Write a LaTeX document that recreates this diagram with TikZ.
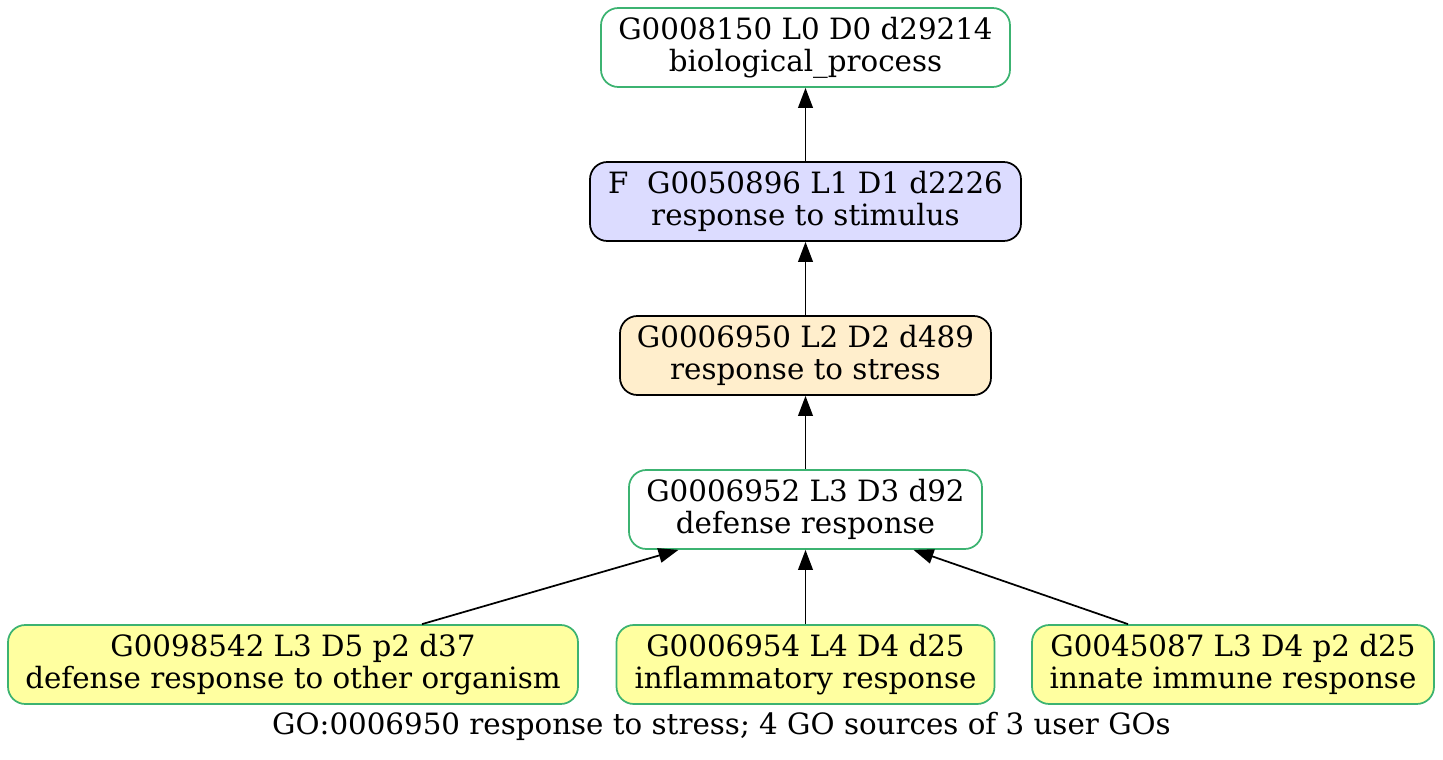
\documentclass[tikz,border=0pt]{standalone}
\usepackage{fontspec}
\setmainfont{DejaVu Serif}
\usetikzlibrary{arrows.meta,calc}
\definecolor{gogreen}{RGB}{60,179,113}
\definecolor{goyellow}{RGB}{255,255,160}
\definecolor{golav}{RGB}{220,220,255}
\definecolor{gopapaya}{RGB}{255,238,204}
\tikzset{
  gobox/.style={draw=gogreen, line width=1.3pt, rounded corners=13pt, align=center,
    inner sep=0pt, minimum height=59.25pt,
    font=\fontsize{22pt}{24pt}\selectfont},
  blackbox/.style={gobox, draw=black},
  arr/.style={line width=1.3pt, -{Triangle[length=15pt,width=11pt]}}
}
\begin{document}
\begin{tikzpicture}[x=0.75pt,y=-0.75pt]
\fill[white] (0,0) rectangle (1443,760);
\useasboundingbox (0,0) rectangle (1443,760);
\node[gobox, fill=white, minimum width=306.75pt] (n1) at (805.5,47.5) {G0008150 L0 D0 d29214\\biological\_process};
\node[blackbox, fill=golav, minimum width=323.25pt] (n2) at (805.5,201.5) {F\ \ G0050896 L1 D1 d2226\\response to stimulus};
\node[blackbox, fill=gopapaya, minimum width=278.25pt] (n3) at (805.5,355.5) {G0006950 L2 D2 d489\\response to stress};
\node[gobox, fill=white, minimum width=264.75pt] (n4) at (805.5,509.5) {G0006952 L3 D3 d92\\defense response};
\node[gobox, fill=goyellow, minimum width=427.5pt] (n5) at (293,664.5) {G0098542 L3 D5 p2 d37\\defense response to other organism};
\node[gobox, fill=goyellow, minimum width=283.5pt] (n6) at (805.5,664.5) {G0006954 L4 D4 d25\\inflammatory response};
\node[gobox, fill=goyellow, minimum width=301.5pt] (n7) at (1233,664.5) {G0045087 L3 D4 p2 d25\\innate immune response};
\node[font=\fontsize{22pt}{24pt}\selectfont, inner sep=0pt] (cap) at (721.5,726) {GO:0006950 response to stress; 4 GO sources of 3 user GOs};
\draw[arr] (n2.north) -- (n1.south);
\draw[arr] (n3.north) -- (n2.south);
\draw[arr] (n4.north) -- (n3.south);
\draw[arr] (n6.north) -- (n4.south);
\draw[arr] ($(n5.north)+(129,0)$) -- ($(n4.south)+(-127,0)$);
\draw[arr] ($(n7.north)+(-105,0)$) -- ($(n4.south)+(108,0)$);
\end{tikzpicture}
\end{document}
